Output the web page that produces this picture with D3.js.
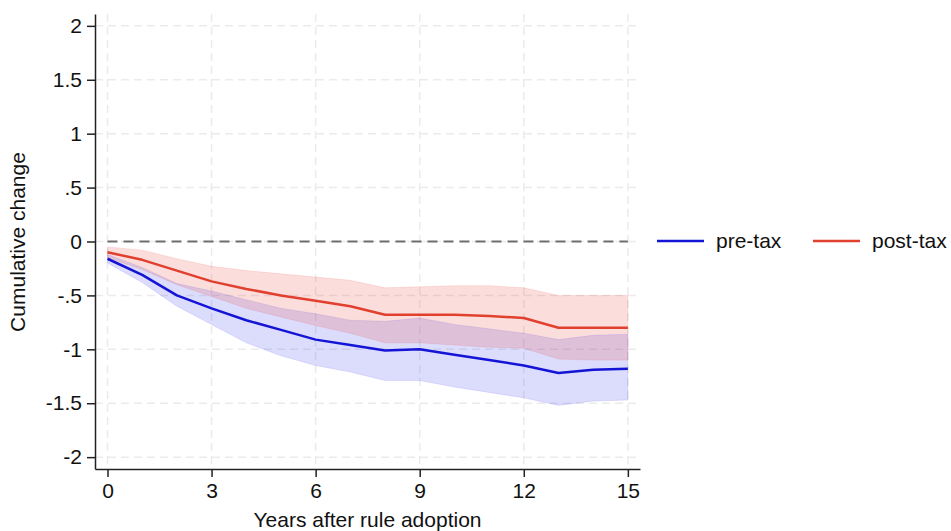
<!DOCTYPE html>
<html>
<head>
<meta charset="utf-8">
<script src="https://cdn.jsdelivr.net/npm/d3@7"></script>
<style>
    body { margin: 0; background: #fff; }
    text { font-family: 'Liberation Sans', Arial, Helvetica, sans-serif; fill: #111; }
</style>
</head>
<body>
<div id="plot"></div>
<script>
var years = [0, 1, 2, 3, 4, 5, 6, 7, 8, 9, 10, 11, 12, 13, 14, 15];

var preTax = [-0.16, -0.31, -0.50, -0.62, -0.73, -0.82, -0.91, -0.96, -1.01, -1.00, -1.05, -1.10, -1.15, -1.22, -1.19, -1.18];
var preTaxHi = [-0.12, -0.24, -0.39, -0.46, -0.54, -0.62, -0.67, -0.73, -0.74, -0.71, -0.77, -0.81, -0.85, -0.91, -0.87, -0.86];
var preTaxLo = [-0.20, -0.38, -0.60, -0.77, -0.94, -1.06, -1.15, -1.21, -1.29, -1.29, -1.35, -1.40, -1.45, -1.52, -1.48, -1.47];

var postTax = [-0.10, -0.17, -0.27, -0.37, -0.44, -0.50, -0.55, -0.60, -0.68, -0.68, -0.68, -0.69, -0.71, -0.80, -0.80, -0.80];
var postTaxHi = [-0.05, -0.08, -0.16, -0.23, -0.27, -0.30, -0.33, -0.36, -0.43, -0.42, -0.41, -0.41, -0.43, -0.50, -0.50, -0.50];
var postTaxLo = [-0.15, -0.26, -0.40, -0.51, -0.62, -0.70, -0.78, -0.85, -0.94, -0.94, -0.96, -0.98, -0.99, -1.09, -1.10, -1.10];

var xTicks = [0, 3, 6, 9, 12, 15];
var yTicks = [2, 1.5, 1, 0.5, 0, -0.5, -1, -1.5, -2];
var yTickLabels = ['2', '1.5', '1', '.5', '0', '-.5', '-1', '-1.5', '-2'];

var seriesNames = ['pre-tax', 'post-tax'];

var svg = d3.select('#plot')
    .append('svg')
    .attr('width', 951)
    .attr('height', 531);

var x = d3.scaleLinear().domain([-0.36, 15.35]).range([95, 640]);
var y = d3.scaleLinear().domain([-2.11, 2.11]).range([469, 14]);

// grid
svg.append('g').selectAll('line')
    .data(yTicks)
    .enter().append('line')
    .attr('x1', 95).attr('x2', 640)
    .attr('y1', function (d) { return y(d); })
    .attr('y2', function (d) { return y(d); })
    .attr('stroke', '#ebebeb')
    .attr('stroke-width', 1.5)
    .attr('stroke-dasharray', '8,5');

svg.append('g').selectAll('line')
    .data(xTicks)
    .enter().append('line')
    .attr('y1', 14).attr('y2', 469)
    .attr('x1', function (d) { return x(d); })
    .attr('x2', function (d) { return x(d); })
    .attr('stroke', '#ebebeb')
    .attr('stroke-width', 1.5)
    .attr('stroke-dasharray', '8,5');

// zero reference
svg.append('line')
    .attr('x1', x(0)).attr('x2', x(15))
    .attr('y1', y(0)).attr('y2', y(0))
    .attr('stroke', '#6e6e6e')
    .attr('stroke-width', 2)
    .attr('stroke-dasharray', '10,6');

var area = function (lo, hi) {
    return d3.area()
        .x(function (d, i) { return x(years[i]); })
        .y0(function (d, i) { return y(lo[i]); })
        .y1(function (d, i) { return y(hi[i]); })(years);
};

var line = function (vals) {
    return d3.line()
        .x(function (d, i) { return x(years[i]); })
        .y(function (d, i) { return y(vals[i]); })(years);
};

svg.append('path')
    .attr('d', area(preTaxLo, preTaxHi))
    .attr('fill', 'rgba(60,60,240,0.18)')
    .attr('stroke', 'rgba(60,60,240,0.12)')
    .attr('stroke-width', 1);

svg.append('path')
    .attr('d', area(postTaxLo, postTaxHi))
    .attr('fill', 'rgba(230,60,50,0.17)')
    .attr('stroke', 'rgba(230,60,50,0.12)')
    .attr('stroke-width', 1);

svg.append('path')
    .attr('d', line(preTax))
    .attr('fill', 'none')
    .attr('stroke', '#1414d6')
    .attr('stroke-width', 2.5)
    .attr('stroke-linejoin', 'round');

svg.append('path')
    .attr('d', line(postTax))
    .attr('fill', 'none')
    .attr('stroke', '#e2402f')
    .attr('stroke-width', 2.5)
    .attr('stroke-linejoin', 'round');

// axes
var yAxis = svg.append('g')
    .attr('transform', 'translate(95,0)')
    .call(d3.axisLeft(y).tickValues(yTicks).tickSizeInner(8).tickSizeOuter(0).tickPadding(5)
        .tickFormat(function (d, i) { return yTickLabels[i]; }));

var xAxis = svg.append('g')
    .attr('transform', 'translate(0,469)')
    .call(d3.axisBottom(x).tickValues(xTicks).tickSizeInner(8).tickSizeOuter(0).tickPadding(6));

[yAxis, xAxis].forEach(function (g) {
    g.select('.domain').attr('stroke', '#222').attr('stroke-width', 1.5);
    g.selectAll('.tick line').attr('stroke', '#222').attr('stroke-width', 1.5);
    g.selectAll('.tick text')
        .attr('font-size', 21)
        .attr('font-family', "'Liberation Sans', Arial, sans-serif")
        .attr('fill', '#111');
});

// titles
svg.append('text')
    .attr('x', 367.5)
    .attr('y', 527)
    .attr('text-anchor', 'middle')
    .attr('font-size', 21)
    .text('Years after rule adoption');

svg.append('text')
    .attr('transform', 'translate(25,242) rotate(-90)')
    .attr('text-anchor', 'middle')
    .attr('font-size', 21)
    .text('Cumulative change');

// legend
var legendX = [657, 813];
var legendColors = ['#1414d6', '#e2402f'];
var legend = svg.append('g').selectAll('g')
    .data(seriesNames)
    .enter().append('g')
    .attr('transform', function (d, i) { return 'translate(' + legendX[i] + ',241)'; });

legend.append('line')
    .attr('x1', 0).attr('x2', 47)
    .attr('stroke', function (d, i) { return legendColors[i]; })
    .attr('stroke-width', 2.5);

legend.append('text')
    .attr('x', 59)
    .attr('y', 7)
    .attr('font-size', 21)
    .text(function (d) { return d; });
</script>
</body>
</html>
